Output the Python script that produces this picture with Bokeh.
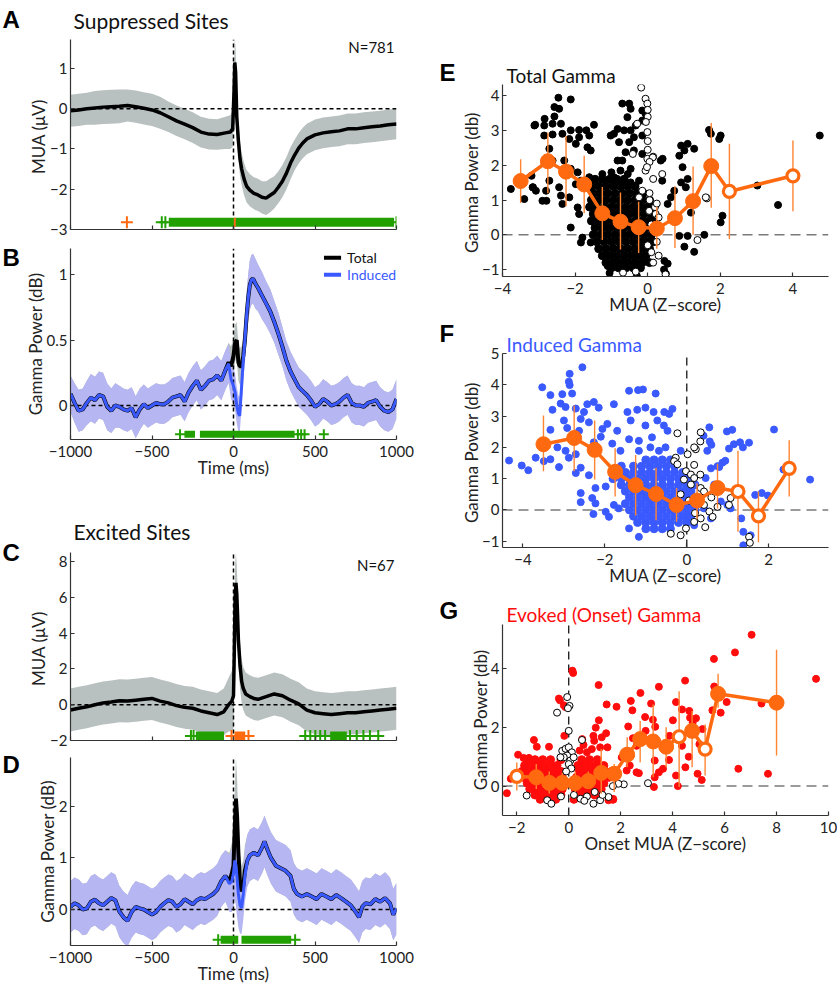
import numpy as np
from bokeh.plotting import figure
from bokeh.layouts import row, column
from bokeh.models import Label, Range1d, FixedTicker
from bokeh.embed import file_html
from bokeh.resources import INLINE
from bokeh.core.properties import value

FONT = "Lato"
MINUS = "\u2212"
ORANGE = "#ff6a10"
ORANGE_BAR = "#ff8533"
GREEN = "#22a000"
BLUE = "#3a5aff"
LAVENDER = "#b6b6f2"
GRAY = "#b9c0c0"
RED = "#ff0d0d"

# ---------------- time-course data ----------------
tA = [-1000,-950,-900,-850,-800,-750,-700,-650,-600,-550,-500,-450,-400,-350,-300,-250,-200,-150,-100,-50,
      -20,-5,3,8,13,20,30,40,50,65,80,
      100,125,150,175,200,225,250,275,300,325,350,375,400,425,450,
      500,550,600,650,700,750,800,850,900,950,1000]
mA = [-0.05,-0.03,0.0,0.02,0.04,0.05,0.06,0.08,0.05,0.01,-0.03,-0.1,-0.2,-0.3,-0.38,-0.47,-0.58,-0.63,-0.64,-0.6,
      -0.58,-0.5,0.4,1.15,0.9,-0.2,-0.8,-1.25,-1.5,-1.75,-1.92,
      -2.02,-2.1,-2.14,-2.2,-2.22,-2.15,-2.08,-1.95,-1.8,-1.6,-1.35,-1.15,-0.98,-0.85,-0.75,
      -0.65,-0.6,-0.57,-0.55,-0.5,-0.5,-0.47,-0.45,-0.43,-0.4,-0.38]
eA = [0.4,0.4,0.4,0.42,0.42,0.42,0.42,0.4,0.4,0.4,0.4,0.4,0.38,0.38,0.38,0.38,0.38,0.38,0.38,0.4,
      0.42,0.45,0.55,0.6,0.6,0.5,0.45,0.42,0.4,0.4,0.4,
      0.4,0.4,0.4,0.4,0.42,0.42,0.4,0.4,0.4,0.4,0.4,0.38,0.38,0.38,0.38,
      0.38,0.38,0.38,0.38,0.38,0.38,0.38,0.38,0.38,0.38,0.38]

tB = [-1000,-975,-950,-925,-900,-875,-850,-825,-800,-775,-750,-725,-700,-675,-650,-625,-600,-575,-550,-525,
      -500,-475,-450,-425,-400,-375,-350,-325,-300,-275,-250,-225,-200,-175,-150,-125,-100,-75,-50,
      -30,-15,0,10,20,30,38,50,60,70,80,90,100,110,120,135,150,
      175,200,225,250,275,300,325,350,375,400,425,450,475,500,525,550,575,600,625,650,675,700,725,750,
      775,800,825,850,875,900,925,950,975,1000]
iB = [0.09,0.02,-0.04,-0.03,0.02,0.06,0.04,0.08,0.07,-0.01,-0.04,0.0,-0.01,-0.03,-0.04,-0.02,-0.09,-0.03,0.01,-0.02,
      0.0,0.02,0.01,0.01,0.03,0.06,0.07,0.08,0.03,0.1,0.15,0.19,0.12,0.15,0.19,0.2,0.23,0.19,0.27,
      0.32,0.2,0.15,0.1,0.0,-0.06,-0.08,0.15,0.35,0.5,0.68,0.82,0.92,0.96,0.97,0.93,0.9,
      0.84,0.78,0.72,0.64,0.55,0.45,0.34,0.26,0.2,0.14,0.11,0.08,0.04,-0.01,0.01,0.05,0.03,0.0,0.01,0.03,0.06,0.08,0.02,0.0,
      0.0,-0.01,0.02,0.03,0.04,-0.01,-0.04,-0.05,-0.03,0.05]
totB = [0.09,0.02,-0.04,-0.03,0.02,0.06,0.04,0.08,0.07,-0.01,-0.04,0.0,-0.01,-0.03,-0.04,-0.02,-0.09,-0.03,0.01,-0.02,
        0.0,0.02,0.01,0.01,0.03,0.06,0.07,0.08,0.03,0.1,0.15,0.19,0.12,0.15,0.19,0.2,0.23,0.19,0.27,
        0.33,0.3,0.38,0.48,0.5,0.33,0.3,0.3,0.38,0.5,0.68,0.82,0.92,0.96,0.97,0.93,0.9,
        0.84,0.78,0.72,0.64,0.55,0.45,0.34,0.26,0.2,0.14,0.11,0.08,0.04,-0.01,0.01,0.05,0.03,0.0,0.01,0.03,0.06,0.08,0.02,0.0,
        0.0,-0.01,0.02,0.03,0.04,-0.01,-0.04,-0.05,-0.03,0.05]
eB = [0.14,0.15,0.16,0.16,0.17,0.18,0.18,0.18,0.18,0.18,0.17,0.17,0.16,0.16,0.16,0.16,0.16,0.16,0.15,0.15,
      0.15,0.15,0.15,0.15,0.15,0.15,0.15,0.15,0.15,0.15,0.15,0.15,0.15,0.15,0.15,0.15,0.15,0.15,0.15,
      0.15,0.15,0.14,0.14,0.14,0.14,0.14,0.15,0.16,0.17,0.18,0.18,0.19,0.19,0.19,0.19,0.18,
      0.18,0.17,0.17,0.16,0.16,0.15,0.15,0.15,0.15,0.15,0.15,0.15,0.15,0.15,0.15,0.15,0.15,0.15,0.15,0.15,0.15,0.15,0.15,0.15,
      0.15,0.15,0.15,0.15,0.15,0.15,0.15,0.15,0.15,0.15]

tC = [-1000,-950,-900,-850,-800,-750,-700,-650,-600,-550,-500,-450,-400,-350,-300,-250,-200,-150,-100,
      -60,-30,-10,0,5,10,15,20,25,30,40,50,60,75,
      100,125,150,
      200,250,300,350,400,450,500,550,600,650,700,750,800,850,900,950,1000]
mC = [-0.3,-0.2,-0.12,0.0,0.1,0.15,0.22,0.2,0.25,0.3,0.35,0.2,0.1,-0.05,-0.15,-0.2,-0.35,-0.45,-0.55,
      -0.4,0.0,0.2,0.5,3.0,6.0,6.8,6.2,5.0,3.6,2.2,1.3,0.9,0.6,
      0.45,0.35,0.3,
      0.45,0.6,0.5,0.25,0.05,-0.3,-0.45,-0.5,-0.55,-0.5,-0.45,-0.45,-0.4,-0.35,-0.3,-0.25,-0.2]
eC = [1.2,1.2,1.2,1.2,1.2,1.2,1.2,1.2,1.2,1.2,1.2,1.2,1.2,1.2,1.2,1.2,1.2,1.2,1.2,
      1.3,1.5,1.7,1.8,1.8,1.8,1.7,1.6,1.5,1.4,1.3,1.2,1.2,1.2,
      1.2,1.2,1.2,
      1.2,1.2,1.2,1.2,1.2,1.2,1.2,1.2,1.2,1.2,1.2,1.2,1.2,1.2,1.2,1.2,1.2]

tD = [-1000,-975,-950,-925,-900,-875,-850,-825,-800,-775,-750,-725,-700,-675,-650,-625,-600,-575,-550,-525,
      -500,-475,-450,-425,-400,-375,-350,-325,-300,-275,-250,-225,-200,-175,-150,-125,-100,-75,-50,-25,
      -10,0,8,15,22,30,40,50,60,70,85,100,125,150,175,190,210,230,260,290,320,350,370,390,420,450,480,510,
      540,570,600,630,660,690,720,750,770,790,810,840,870,900,930,960,980,1000]
iD = [0.05,0.12,0.08,0.0,0.02,0.15,0.19,0.12,0.08,0.15,0.22,0.18,-0.04,-0.15,-0.22,-0.05,0.05,0.02,0.0,-0.05,
      -0.1,-0.05,0.05,0.12,0.18,0.15,0.05,0.1,0.2,0.15,0.1,0.18,0.22,0.2,0.25,0.3,0.38,0.55,0.65,0.5,
      0.55,0.7,0.95,0.85,0.6,0.3,0.08,0.03,0.3,0.65,0.95,1.05,1.1,1.05,1.2,1.32,1.15,1.0,0.85,0.8,0.75,0.65,0.4,0.3,0.25,0.3,0.25,0.2,
      0.3,0.25,0.2,0.28,0.22,0.15,0.08,-0.05,-0.15,0.05,0.12,0.1,0.2,0.15,0.22,0.12,-0.1,0.02]
totD = [0.05,0.12,0.08,0.0,0.02,0.15,0.19,0.12,0.08,0.15,0.22,0.18,-0.04,-0.15,-0.22,-0.05,0.05,0.02,0.0,-0.05,
        -0.1,-0.05,0.05,0.12,0.18,0.15,0.05,0.1,0.2,0.15,0.1,0.18,0.22,0.2,0.25,0.3,0.38,0.55,0.65,0.55,
        0.7,0.85,1.6,2.15,1.8,1.1,0.5,0.35,0.45,0.75,0.95,1.05,1.1,1.05,1.2,1.32,1.15,1.0,0.85,0.8,0.75,0.65,0.4,0.3,0.25,0.3,0.25,0.2,
        0.3,0.25,0.2,0.28,0.22,0.15,0.08,-0.05,-0.15,0.05,0.12,0.1,0.2,0.15,0.22,0.12,-0.1,0.02]
eD = [0.5,0.5,0.5,0.5,0.5,0.5,0.5,0.5,0.5,0.5,0.5,0.5,0.5,0.5,0.5,0.5,0.5,0.5,0.5,0.5,
      0.5,0.5,0.5,0.5,0.5,0.5,0.5,0.5,0.5,0.5,0.5,0.5,0.5,0.5,0.5,0.5,0.5,0.5,0.5,0.55,
      0.6,0.65,0.75,0.8,0.75,0.65,0.55,0.5,0.5,0.5,0.5,0.5,0.5,0.5,0.5,0.5,0.5,0.5,0.5,0.5,0.5,0.5,0.5,0.5,0.5,0.5,0.5,0.5,
      0.5,0.5,0.5,0.5,0.5,0.5,0.5,0.5,0.5,0.5,0.5,0.5,0.5,0.5,0.5,0.5,0.5,0.5]

# significance markers: thick runs (start, end) and isolated "+" marks (ms)
sigA_g_runs = [(-397, 985)];  sigA_g_plus = [-440, -418, 1000]
sigA_o_runs = [(2, 14)];      sigA_o_plus = [-654]
sigB_g_runs = [(-301, -236), (-206, 375)]; sigB_g_plus = [-328, 395, 415, 436, 554]
sigC_g_runs = [(-231, -58), (593, 695)];   sigC_g_plus = [-261, -245, 440, 471, 502, 532, 562, 715, 756, 797, 837, 888]
sigC_o_runs = [(6, 72)];      sigC_o_plus = [-12, 92]
sigD_g_runs = [(-79, 29), (49, 354)];      sigD_g_plus = [-94, 378]

# ---------------- scatter data ----------------
e_x = [-2.46,-2.12,-2.57,-2.44,-2.57,-3.10,-2.85,-2.62,-2.39,-2.12,-2.62,-2.35,-1.89,-1.69,-1.48,-1.89,-1.61,-2.85,-2.16,-1.98,
       -1.66,-1.57,-2.71,-2.62,-2.30,-2.12,-1.93,-1.84,-1.61,-1.98,-3.17,-3.08,-2.80,-2.71,-2.44,-2.39,-2.16,-2.35,-1.93,-1.89,
       -2.12,-1.80,-1.84,-1.57,-3.77,-3.40,-2.90,-3.12,-2.84,-3.16,-3.20,-2.79,
       -0.70,-0.51,-0.47,-0.56,-0.83,-0.65,-0.47,-0.33,-0.38,-0.15,-0.93,-1.02,-0.79,-0.51,-0.61,-0.38,-0.15,-0.83,-0.70,-0.47,
       -0.15,-0.06,-0.93,-0.70,-0.47,-0.24,-0.93,-0.15,0.36,0.40,
       1.69,1.74,2.01,1.97,4.74,0.92,1.10,1.28,0.87,1.01,0.96,1.10,1.05,0.92,0.73,0.64,0.55,1.19,2.06,2.01,
       3.02,3.59,1.56,1.28,1.01,0.87,1.10,0.46,0.55,0.50,0.41,
       -1.00,-0.75,-0.55,-1.25,-1.10,-1.05,-0.30,0.45]
e_y = [3.95,3.90,3.68,3.63,3.41,3.17,3.15,3.20,3.20,3.01,2.89,2.91,3.02,3.01,3.17,2.81,2.86,2.86,2.76,2.62,
       2.52,2.43,2.48,2.14,2.14,1.90,1.80,1.56,1.66,1.46,1.37,1.27,1.27,1.56,1.37,1.13,1.08,0.89,0.79,0.60,
       0.21,-0.08,-0.22,-0.22,1.32,1.03,0.98,3.15,3.34,1.37,1.70,0.98,
       3.78,3.78,3.63,3.39,3.05,3.01,3.01,3.15,2.81,2.86,2.91,2.86,2.67,2.67,2.38,2.43,2.33,2.14,2.14,1.90,
       3.29,3.49,1.42,1.46,1.51,1.56,1.66,3.58,2.14,1.56,
       3.02,2.91,2.86,2.76,2.86,2.57,2.62,2.48,2.28,2.43,1.95,1.61,1.37,1.51,1.27,1.08,0.89,0.64,0.55,0.36,
       1.42,0.86,0.00,-0.49,-0.34,-0.03,-0.03,-0.75,-0.83,-1.12,2.19,
       1.80,1.85,1.75,1.75,-0.90,-1.10,-1.18,-1.00]
e_blob = [(1.6, [-1.45,-1.25,-1.05,-0.85,-0.65]),
          (1.4, [-1.55,-1.35,-1.15,-0.95,-0.75,-0.55,-0.35]),
          (1.2, [-1.5,-1.3,-1.1,-0.9,-0.7,-0.5,-0.3,-0.12]),
          (1.0, [-1.55,-1.35,-1.15,-0.95,-0.75,-0.55,-0.35,-0.15,0.05]),
          (0.8, [-1.6,-1.4,-1.2,-1.0,-0.8,-0.6,-0.4,-0.2,0.0,0.15]),
          (0.6, [-1.5,-1.3,-1.1,-0.9,-0.7,-0.5,-0.3,-0.1,0.1]),
          (0.4, [-1.55,-1.35,-1.15,-0.95,-0.75,-0.55,-0.35,-0.15,0.05,0.2]),
          (0.2, [-1.45,-1.25,-1.05,-0.85,-0.65,-0.45,-0.25,-0.05,0.12]),
          (0.0, [-1.5,-1.3,-1.1,-0.9,-0.7,-0.5,-0.3,-0.1,0.1]),
          (-0.2, [-1.4,-1.2,-1.0,-0.8,-0.6,-0.4,-0.2,0.0,0.15]),
          (-0.4, [-1.35,-1.15,-0.95,-0.75,-0.55,-0.35,-0.15,0.05]),
          (-0.6, [-1.25,-1.05,-0.85,-0.65,-0.45,-0.25,-0.05]),
          (-0.8, [-1.15,-0.95,-0.75,-0.55,-0.35,-0.15,0.05]),
          (-0.95, [-1.0,-0.8,-0.6,-0.4,-0.2])]
eo_x = [-0.18,-0.06,-0.01,-0.01,-0.29,-0.06,-0.01,0.15,0.15,0.40,-0.15,-0.24,0.04,0.22,-0.68,-0.33,0.49,1.63,1.37,
        -0.41,0.14,1.60,0.05,0.10,0.20,0.25,0.10,0.30,0.15,0.00,0.20,0.30,0.05,0.25,
        0.00,0.00,-0.05,0.00,0.00,0.05,-0.02]
eo_y = [4.24,3.92,3.78,2.96,3.20,1.85,2.19,2.25,1.61,1.75,1.27,1.08,0.69,0.60,-1.09,-1.06,-1.14,1.05,-0.15,
        2.33,2.23,1.08,1.00,0.30,0.10,-0.20,-0.50,0.50,-0.80,-0.30,0.80,-0.60,1.20,0.90,
        3.60,3.40,3.25,2.70,2.45,2.10,1.95]
e_bin_x = [-3.5,-2.75,-2.25,-1.75,-1.25,-0.75,-0.25,0.25,0.75,1.25,1.75,2.25,4.0]
e_bin_y = [1.55,2.12,1.82,1.45,0.62,0.38,0.22,0.18,0.48,0.97,1.98,1.25,1.70]
e_bin_lo = [0.92,1.20,0.82,0.62,-0.15,-0.42,-0.52,-0.40,-0.38,0.00,0.78,-0.12,0.68]
e_bin_hi = [2.18,2.95,2.85,2.28,1.38,1.22,0.95,0.80,1.40,1.97,3.22,2.62,2.72]
e_bin_sig = [1,1,1,1,1,1,1,1,1,1,1,0,0]

f_x = [-2.55,-2.86,-2.88,-2.86,-3.53,-3.33,-3.04,-2.80,-3.08,-3.28,-2.96,-2.71,-2.43,-2.27,-2.15,-2.51,-2.59,-3.00,-3.33,-2.92,
       -2.63,-2.39,-1.94,-2.06,-1.78,-1.41,-1.19,-1.07,-0.76,-1.45,-1.21,-1.01,-0.81,-1.37,-1.01,-0.72,-0.56,-1.70,-1.41,-1.17,
       -0.85,-2.10,-2.27,-1.82,-1.62,-1.17,-0.89,-0.68,-0.52,-4.34,-4.03,-3.87,-3.69,-3.49,-3.33,-3.12,-3.16,-2.96,-2.88,-2.71,
       -2.59,-2.71,-2.39,-2.23,-1.98,-2.59,-2.31,-2.23,-2.59,-2.28,-1.98,-1.90,-1.78,-1.66,-1.17,-1.41,
       -0.35,-0.55,-0.43,0.55,0.98,1.11,2.13,0.41,0.56,0.60,1.30,1.15,1.03,0.50,-0.15,0.87,0.75,0.59,0.46,3.01,
       2.36,0.67,0.99,1.07,0.83,1.67,1.98,1.83,1.33,1.38,1.56,1.38,0.59,0.18,0.42,-0.47,1.52,1.37,0.94,0.79]
f_y = [4.56,4.35,4.10,3.99,3.92,3.67,3.70,3.72,3.40,3.20,3.29,3.24,3.38,3.45,3.27,3.13,2.91,2.86,2.56,2.62,
       2.53,2.80,2.75,2.59,3.38,3.81,3.83,3.85,3.72,3.13,3.20,3.27,3.13,2.86,2.70,2.86,2.70,2.53,2.26,2.21,
       2.32,2.34,2.16,2.12,1.89,1.89,2.00,1.89,2.00,1.58,1.42,1.27,1.67,1.56,1.62,1.37,2.00,1.89,1.67,1.78,
       1.35,1.18,1.11,0.70,0.75,0.54,0.38,0.21,0.25,-0.13,-0.06,-0.22,0.16,0.05,-0.86,-0.59,
       3.23,3.13,3.07,2.64,2.51,2.56,2.57,2.37,2.19,2.08,2.16,2.10,1.96,1.89,1.89,1.51,1.40,1.33,1.02,0.97,
       1.29,0.81,0.16,0.05,0.27,0.48,0.46,0.54,-0.27,-0.70,-0.81,-1.13,-0.27,-0.49,0.05,2.53,2.15,2.00,1.57,1.37]
f_blob = [(1.6, [-1.0,-0.8,-0.6,-0.4]),
          (1.4, [-1.6,-1.3,-1.1,-0.9,-0.7,-0.5,-0.3]),
          (1.2, [-1.7,-1.5,-1.3,-1.1,-0.9,-0.7,-0.5,-0.3,-0.1]),
          (1.0, [-1.8,-1.6,-1.4,-1.2,-1.0,-0.8,-0.6,-0.4,-0.2,0.0]),
          (0.8, [-1.6,-1.4,-1.2,-1.0,-0.8,-0.6,-0.4,-0.2,0.0,0.2]),
          (0.6, [-1.5,-1.3,-1.1,-0.9,-0.7,-0.5,-0.3,-0.1,0.1]),
          (0.4, [-1.4,-1.2,-1.0,-0.8,-0.6,-0.4,-0.2,0.0,0.2]),
          (0.2, [-1.5,-1.3,-1.1,-0.9,-0.7,-0.5,-0.3,-0.1,0.1,0.3]),
          (0.0, [-1.4,-1.2,-1.0,-0.8,-0.6,-0.4,-0.2,0.0,0.2]),
          (-0.2, [-1.3,-1.1,-0.9,-0.7,-0.5,-0.3,-0.1,0.1]),
          (-0.4, [-1.2,-1.0,-0.8,-0.6,-0.4,-0.2,0.0]),
          (-0.6, [-1.0,-0.8,-0.6,-0.4])]
fo_x = [-0.23,0.33,0.22,0.02,0.18,-0.27,-0.31,-0.23,-0.02,0.10,-0.07,0.10,0.34,0.42,0.26,0.42,0.55,0.63,0.34,0.18,
        -0.02,-0.39,-0.15,1.07,1.03,1.52,1.54,0.33,0.18,0.34,0.18,-0.15,0.05,0.20,0.60,0.75,0.45]
fo_y = [2.45,2.19,1.94,1.78,1.44,1.67,1.56,1.46,1.24,1.13,0.97,0.81,0.70,0.59,0.38,0.16,-0.05,-0.22,-0.27,-0.38,
        -0.59,-0.76,-0.81,0.38,0.16,-0.86,-1.05,1.13,1.02,2.48,2.00,0.50,0.30,-0.10,0.40,0.10,-0.55]
f_bin_x = [-3.5,-2.75,-2.25,-1.75,-1.25,-0.75,-0.25,0.25,0.75,1.25,1.75,2.5]
f_bin_y = [2.10,2.30,1.92,1.22,0.79,0.51,0.16,0.30,0.70,0.59,-0.19,1.33]
f_bin_lo = [1.24,1.24,0.97,0.43,-0.18,-0.33,-0.38,-0.30,0.05,-0.70,-1.03,0.43]
f_bin_hi = [3.02,3.34,2.86,1.97,1.76,1.35,0.70,0.85,1.48,1.89,0.59,2.23]
f_bin_sig = [1,1,1,1,1,1,1,1,1,0,0,0]

g_x = [7.04,6.40,5.59,9.52,4.48,3.47,1.15,0.14,0.17,-0.34,-0.13,1.46,1.84,2.39,2.76,3.17,2.45,4.13,4.36,4.64,
       5.60,5.64,5.53,5.85,6.08,7.42,1.16,1.04,1.44,0.95,1.27,-0.17,0.52,2.29,2.94,3.24,3.33,2.96,4.01,4.67,
       4.90,4.77,5.15,5.03,2.47,2.61,3.88,4.36,4.62,3.86,3.31,4.49,3.47,3.63,3.31,4.13,4.20,4.96,5.12,6.53,
       7.67,2.61,2.70,3.28,2.04,2.35,2.23,1.21,1.49,0.89,0.70,0.42,0.98,0.57,-1.34,-1.23,-0.76,-1.95,-1.74,-1.53,
       -2.23,-2.38,1.53,-0.38,-0.19]
g_y = [5.15,4.55,4.33,3.65,3.59,3.38,3.44,3.93,3.85,2.92,2.69,2.78,2.70,2.90,3.17,2.81,2.58,2.86,2.61,2.56,
       3.39,3.06,2.58,2.50,2.86,2.81,2.24,1.99,1.80,1.71,1.66,1.71,1.60,2.03,2.35,2.26,2.02,1.88,2.24,2.33,
       2.31,2.16,1.94,1.43,1.63,1.37,1.71,1.37,1.00,0.89,0.87,0.64,0.47,0.59,0.30,0.36,0.00,0.42,0.21,0.59,
       0.42,0.47,0.44,-0.03,0.98,0.70,0.53,1.32,1.32,1.26,1.15,1.21,1.54,1.40,1.57,1.34,1.34,1.07,0.96,0.96,
       0.25,-0.24,-0.48,2.98,2.75]
g_blob = [(0.9, [-1.6,-1.3,-1.0,-0.7,-0.3,0.5,0.8,1.1]),
          (0.7, [-1.7,-1.45,-1.2,-0.95,-0.7,-0.45,0.35,0.6,0.85,1.1,1.35]),
          (0.5, [-1.8,-1.55,-1.3,-1.05,-0.8,-0.55,-0.3,0.4,0.65,0.9,1.15,1.4,1.65]),
          (0.3, [-1.75,-1.5,-1.25,-1.0,-0.75,-0.5,-0.25,0.3,0.55,0.8,1.05,1.3,1.55]),
          (0.1, [-1.6,-1.35,-1.1,-0.85,-0.6,-0.35,-0.1,0.35,0.6,0.85,1.1,1.35]),
          (-0.1, [-1.5,-1.25,-1.0,-0.75,-0.5,-0.25,0.25,0.5,0.75,1.0,1.25]),
          (-0.3, [-1.3,-1.05,-0.8,-0.55,-0.3,0.4,0.7,1.0]),
          (-0.45, [-1.1,-0.8,-0.5,0.2,1.7])]
go_x = [-0.06,0.03,-0.03,-0.45,0.00,0.51,-0.25,-0.12,0.00,0.12,-0.06,-0.19,0.06,-0.32,0.19,0.00,0.10,-0.10,3.05,2.12,
        -1.62,-0.83,-0.67,0.45,0.95,1.21,1.53,1.91,0.20,0.70,1.00,-0.30,0.60,1.70,1.30]
go_y = [3.03,2.73,2.65,2.50,1.88,1.57,1.20,1.27,1.32,1.15,1.04,0.98,0.87,0.98,0.98,0.75,0.60,0.50,0.10,0.06,
        -0.32,-0.48,-0.60,-0.43,-0.60,-0.48,-0.37,0.08,-0.30,-0.35,-0.20,-0.35,-0.50,0.00,-0.30]
g_bin_x = [-2.0,-1.25,-0.75,-0.25,0.25,0.75,1.25,1.75,2.25,2.75,3.25,3.75,4.25,4.75,5.25,5.75,8.0]
g_bin_y = [0.33,0.30,0.11,0.11,0.11,0.17,0.45,0.42,1.07,1.60,1.52,1.34,1.68,1.88,1.26,3.14,2.84]
g_bin_lo = [-0.15,-0.10,-0.25,-0.15,-0.20,-0.10,-0.26,-0.20,0.64,0.81,0.30,0.64,-0.03,0.64,0.36,2.67,1.04]
g_bin_hi = [0.80,0.75,0.50,0.45,0.50,0.50,1.26,0.75,1.66,2.22,2.78,2.00,3.23,2.56,2.10,3.82,4.64]
g_bin_sig = [0,1,1,1,1,1,1,1,1,1,1,1,0,1,0,1,1]

# panel letters / titles
letters_left = ["A", "B", "C", "D"]
letters_right = ["E", "F", "G"]
titles = {"A": "Suppressed Sites", "C": "Excited Sites", "E": "Total Gamma",
          "F": "Induced Gamma", "G": "Evoked (Onset) Gamma"}

# page geometry (pixels)
LETW_L = 21            # left letter strip
LW = 407               # left column width
LETW_R = 30            # right letter strip
RW = 379               # right column width
H = 986


# ---------------- helpers ----------------
def make_fig(w, h, xr, yr, bl, br, bt, bb, ylab_standoff=-2):
    p = figure(width=w, height=h, x_range=Range1d(*xr), y_range=Range1d(*yr),
               output_backend="svg", toolbar_location=None,
               min_border_left=bl, min_border_right=br, min_border_top=bt, min_border_bottom=bb)
    p.grid.visible = False
    p.outline_line_color = None
    for ax in (p.xaxis[0], p.yaxis[0]):
        ax.axis_line_color = "#333333"
        ax.axis_line_width = 1.2
        ax.major_tick_in = 4
        ax.major_tick_out = 0
        ax.major_tick_line_color = "#333333"
        ax.major_tick_line_width = 1.2
        ax.minor_tick_line_color = None
        ax.major_label_text_font = FONT
        ax.major_label_text_font_size = "15px"
        ax.major_label_text_color = "#222222"
        ax.axis_label_text_font = FONT
        ax.axis_label_text_font_size = "17px"
        ax.axis_label_text_font_style = "normal"
        ax.axis_label_text_color = "#222222"
    p.xaxis[0].major_label_standoff = 6
    p.xaxis[0].axis_label_standoff = -3
    p.yaxis[0].major_label_standoff = 3
    p.yaxis[0].axis_label_standoff = ylab_standoff
    return p


def set_title(p, text, color, standoff):
    p.title.text = text
    p.title.align = "left"
    p.title.offset = 4
    p.title.standoff = standoff
    p.title.text_font = FONT
    p.title.text_font_size = "19px"
    p.title.text_font_style = "normal"
    p.title.text_color = color


def text_fig(w, h, x0, x1):
    # a blank strip whose x coordinates are page pixels, y measured downward
    p = figure(width=w, height=h, x_range=Range1d(x0, x1), y_range=Range1d(h, 0),
               output_backend="svg", toolbar_location=None, min_border=0,
               x_axis_location=None, y_axis_location=None)
    p.grid.visible = False
    p.outline_line_color = None
    return p


def put_text(p, x, y, txt, size, color="#111111", bold=False, font=FONT):
    p.text(x=[x], y=[y], text=[txt], text_font=value(font), text_font_size=size,
           text_color=color, text_font_style="bold" if bold else "normal",
           text_baseline="middle", text_align="left")


def fmt(v):
    return ("%g" % v).replace("-", MINUS)


def set_ticks(ax, vals, show=True):
    ax.ticker = FixedTicker(ticks=vals)
    ax.major_label_overrides = {v: (fmt(v) if show else "") for v in vals}
    if not show:
        ax.major_label_text_font_size = "0px"
        ax.major_label_standoff = 0
        ax.axis_label_standoff = 0


def add_label(p, x, y, text, size, color="#111111", align="left"):
    p.add_layout(Label(x=x, y=y, x_units="screen", y_units="screen", text=text,
                       text_font=FONT, text_font_size=size, text_color=color,
                       text_align=align, text_baseline="middle"))


def band(p, t, m, e, color):
    m = np.array(m, float); e = np.array(e, float)
    p.varea(x=t, y1=m - e, y2=m + e, fill_color=color, fill_alpha=1.0)


def zero_lines(p, xr, yr, color="#000000", dash="4 3", width=1.5, vertical=True):
    p.segment(x0=[xr[0]], y0=[0], x1=[xr[1]], y1=[0], line_color=color, line_dash=dash, line_width=width)
    if vertical:
        p.segment(x0=[0], y0=[yr[0]], x1=[0], y1=[yr[1]], line_color="#000000", line_dash=dash, line_width=width)


def sig_marks(p, runs, plus, y, color, thick):
    if runs:
        p.segment(x0=[r[0] for r in runs], y0=[y] * len(runs), x1=[r[1] for r in runs], y1=[y] * len(runs),
                  line_color=color, line_width=thick, line_cap="butt")
    if plus:
        p.scatter(x=plus, y=[y] * len(plus), marker="cross", size=thick + 3, line_width=2, line_color=color)


def expand(rows):
    xs = [x for yy, xx in rows for x in xx]
    ys = [yy for yy, xx in rows for x in xx]
    return xs, ys


def binned(p, bx, by, lo, hi, sig):
    p.segment(x0=bx, y0=lo, x1=bx, y1=hi, line_color=ORANGE_BAR, line_width=1.4)
    p.line(bx, by, line_color=ORANGE, line_width=3.5)
    fx = [x for x, s in zip(bx, sig) if s]; fy = [y for y, s in zip(by, sig) if s]
    ox = [x for x, s in zip(bx, sig) if not s]; oy = [y for y, s in zip(by, sig) if not s]
    p.scatter(fx, fy, size=15, fill_color=ORANGE, line_color=ORANGE)
    p.scatter(ox, oy, size=12, fill_color="white", line_color=ORANGE, line_width=3.2)


TX = (-1000, 1000)
TT = [-1000, -500, 0, 500, 1000]
FL = (69, 396)    # left-column frame extent (page px)

# ---------------- letter strips ----------------
pLL = text_fig(LETW_L, H, 0, LETW_L)
for ch, yy in zip(letters_left, [19, 257, 552, 764]):
    put_text(pLL, 2, yy, ch, "24px", color="#000000", bold=True, font="Liberation Sans")
x0R = LETW_L + LW
pLR = text_fig(LETW_R, H, x0R, x0R + LETW_R)
for ch, yy in zip(letters_right, [72, 333, 610]):
    put_text(pLR, 439, yy, ch, "24px", color="#000000", bold=True, font="Liberation Sans")

# ---------------- Panel A ----------------
hA = text_fig(LW, 39, *FL)
put_text(hA, 72, 20, titles["A"], "21px")
yA = (-3.0, 1.72)
pA = make_fig(LW, 201, TX, yA, 48, 32, 0, 11)
set_ticks(pA.xaxis[0], TT, show=False)
set_ticks(pA.yaxis[0], [-3, -2, -1, 0, 1])
pA.yaxis.axis_label = "MUA  (\u03bcV)"
band(pA, tA, mA, eA, GRAY)
zero_lines(pA, TX, yA)
pA.line(tA, mA, line_color="#000000", line_width=3.5)
sig_marks(pA, sigA_g_runs, sigA_g_plus, -2.82, GREEN, 9)
sig_marks(pA, sigA_o_runs, sigA_o_plus, -2.82, ORANGE, 9)
add_label(pA, 324, 183, "N=781", "15px", align="right")

# ---------------- Panel B ----------------
yB = (-0.26, 1.2)
pB = make_fig(LW, 240, TX, yB, 48, 32, 8, 41)
set_ticks(pB.xaxis[0], TT)
set_ticks(pB.yaxis[0], [0, 0.5, 1])
pB.xaxis.axis_label = "Time (ms)"
pB.yaxis.axis_label = "Gamma Power (dB)"
band(pB, tB, totB, eB, GRAY)
band(pB, tB, iB, eB, LAVENDER)
zero_lines(pB, TX, yB)
pB.line(tB, totB, line_color="#000000", line_width=4)
pB.line(tB, iB, line_color=BLUE, line_width=3)
sig_marks(pB, sigB_g_runs, sigB_g_plus, -0.22, GREEN, 7)
pB.segment(x0=[555, 555], y0=[1.13, 1.0], x1=[660, 660], y1=[1.13, 1.0],
           line_color=["#000000", BLUE], line_width=4)
pB.text(x=[697, 697], y=[1.13, 1.0], text=["Total", "Induced"], text_color=["#111111", BLUE],
        text_font=value(FONT), text_font_size="14px", text_baseline="middle")

# ---------------- Panel C ----------------
hC = text_fig(LW, 72, *FL)
put_text(hC, 72, 51, titles["C"], "21px")
yC = (-2.0, 8.5)
pC = make_fig(LW, 198, TX, yC, 48, 32, 0, 10)
set_ticks(pC.xaxis[0], TT, show=False)
set_ticks(pC.yaxis[0], [-2, 0, 2, 4, 6, 8])
pC.yaxis.axis_label = "MUA  (\u03bcV)"
band(pC, tC, mC, eC, GRAY)
zero_lines(pC, TX, yC)
pC.line(tC, mC, line_color="#000000", line_width=3.5)
sig_marks(pC, sigC_g_runs, sigC_g_plus, -1.75, GREEN, 9)
sig_marks(pC, sigC_o_runs, sigC_o_plus, -1.75, ORANGE, 9)
add_label(pC, 324, 176, "N=67", "15px", align="right")

# ---------------- Panel D ----------------
yD = (-0.7, 2.95)
pD = make_fig(LW, 236, TX, yD, 48, 32, 7, 39)
set_ticks(pD.xaxis[0], TT)
set_ticks(pD.yaxis[0], [0, 1, 2])
pD.xaxis.axis_label = "Time (ms)"
pD.yaxis.axis_label = "Gamma Power (dB)"
band(pD, tD, totD, eD, GRAY)
band(pD, tD, iD, eD, LAVENDER)
zero_lines(pD, TX, yD)
pD.line(tD, totD, line_color="#000000", line_width=4)
pD.line(tD, iD, line_color=BLUE, line_width=3)
sig_marks(pD, sigD_g_runs, sigD_g_plus, -0.59, GREEN, 8)

# ---------------- Panel E ----------------
xE, yE = (-4.0, 4.98), (-1.2, 4.33)
pE = make_fig(RW, 320, xE, yE, 43, 9, 84, 44, ylab_standoff=-3)
set_title(pE, titles["E"], "#111111", -4)
set_ticks(pE.xaxis[0], [-4, -2, 0, 2, 4])
set_ticks(pE.yaxis[0], [-1, 0, 1, 2, 3, 4])
pE.xaxis.axis_label = "MUA (Z\u2212score)"
pE.yaxis.axis_label = "Gamma  Power (db)"
zero_lines(pE, xE, yE, color="#7a7a7a", dash="10 6", width=1.5, vertical=False)
bxE, byE = expand(e_blob)
pE.scatter(bxE, byE, size=8, fill_color="#000000", line_color="#000000")
pE.scatter(e_x, e_y, size=7, fill_color="#000000", line_color="#000000")
pE.scatter(eo_x, eo_y, size=7, fill_color="white", line_color="#000000", line_width=1)
binned(pE, e_bin_x, e_bin_y, e_bin_lo, e_bin_hi, e_bin_sig)

# ---------------- Panel F ----------------
xF, yF = (-4.5, 3.46), (-1.2, 5.0)
pF = make_fig(RW, 270, xF, yF, 43, 9, 33, 43, ylab_standoff=-3)
set_title(pF, titles["F"], BLUE, -4)
set_ticks(pF.xaxis[0], [-4, -2, 0, 2])
set_ticks(pF.yaxis[0], [-1, 0, 1, 2, 3, 4, 5])
pF.xaxis.axis_label = "MUA (Z\u2212score)"
pF.yaxis.axis_label = "Gamma  Power (db)"
zero_lines(pF, xF, yF, color="#7a7a7a", dash="10 6", width=1.5, vertical=False)
pF.segment(x0=[0], y0=[yF[0]], x1=[0], y1=[yF[1]], line_color="#000000", line_dash="8 5", line_width=1.2)
bxF, byF = expand(f_blob)
pF.scatter(bxF, byF, size=8, fill_color=BLUE, line_color=BLUE)
pF.scatter(f_x, f_y, size=7, fill_color=BLUE, line_color=BLUE)
pF.scatter(fo_x, fo_y, size=7, fill_color="white", line_color="#000000", line_width=1)
binned(pF, f_bin_x, f_bin_y, f_bin_lo, f_bin_hi, f_bin_sig)

# ---------------- Panel G ----------------
xG, yG = (-2.55, 10.0), (-1.0, 5.5)
pG = make_fig(RW, 396, xG, yG, 43, 9, 34, 171, ylab_standoff=-3)
set_title(pG, titles["G"], RED, -2)
set_ticks(pG.xaxis[0], [-2, 0, 2, 4, 6, 8, 10])
set_ticks(pG.yaxis[0], [0, 2, 4])
pG.xaxis.axis_label = "Onset MUA (Z\u2212score)"
pG.yaxis.axis_label = "Gamma Power (db)"
zero_lines(pG, xG, yG, color="#7a7a7a", dash="10 6", width=1.5, vertical=False)
pG.segment(x0=[0], y0=[yG[0]], x1=[0], y1=[yG[1]], line_color="#000000", line_dash="8 5", line_width=1.2)
bxG, byG = expand(g_blob)
pG.scatter(bxG, byG, size=8, fill_color=RED, line_color=RED)
pG.scatter(g_x, g_y, size=7, fill_color=RED, line_color=RED)
pG.scatter(go_x, go_y, size=7, fill_color="white", line_color="#000000", line_width=1)
binned(pG, g_bin_x, g_bin_y, g_bin_lo, g_bin_hi, g_bin_sig)

layout = row(pLL, column(hA, pA, pB, hC, pC, pD), pLR, column(pE, pF, pG))
open("out.html", "w").write(file_html(layout, INLINE))
